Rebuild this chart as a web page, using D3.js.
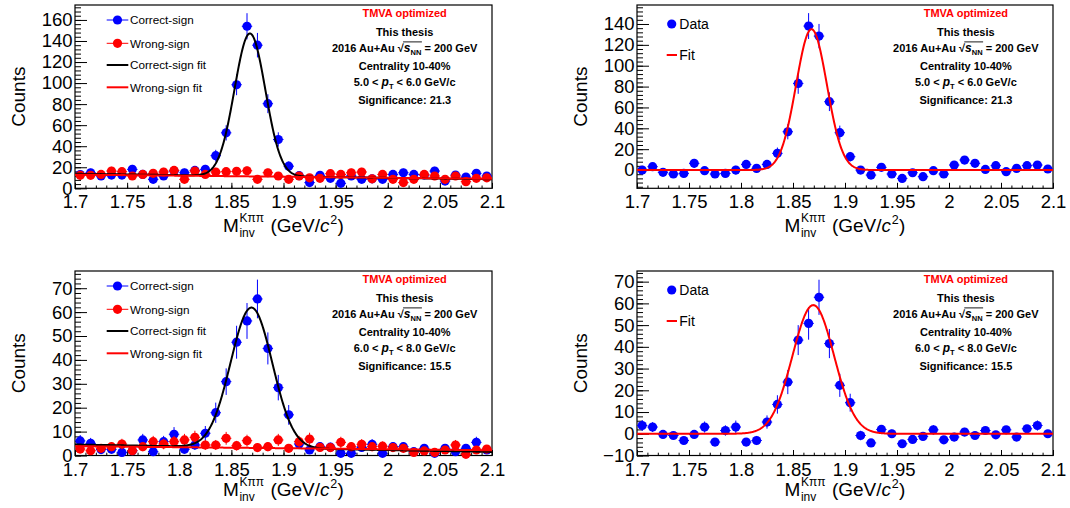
<!DOCTYPE html>
<html><head><meta charset="utf-8">
<script src="https://cdn.jsdelivr.net/npm/d3@7"></script>
<style>
body{margin:0;background:#fff;}
svg{display:block;font-family:"Liberation Sans",Arial,Helvetica,sans-serif;}
</style></head><body>
<svg id="c" width="1070" height="508"></svg>
<script>
// ---------------- data ----------------
const binCenters = [1.705,1.715,1.725,1.735,1.745,1.755,1.765,1.775,1.785,1.795,
  1.805,1.815,1.825,1.835,1.845,1.855,1.865,1.875,1.885,1.895,
  1.905,1.915,1.925,1.935,1.945,1.955,1.965,1.975,1.985,1.995,
  2.005,2.015,2.025,2.035,2.045,2.055,2.065,2.075,2.085,2.095];
const binHalfWidth = 0.005;

// 5.0 < pT < 6.0
const correctSign56 = [13,14.8,11.7,12.6,12.6,18,13.2,8.5,11.7,16.4,14.8,17,18,31,52.7,98.4,154,136,80.4,46.4,
  21,12,5.4,12.3,9.5,4.7,11.7,8.5,9,8.5,13.2,14.8,13.2,12.6,16.4,6.9,12.6,10.7,14.2,11.7];
const wrongSign56 = [12.3,12.3,13.2,16.4,15.8,11.7,13.2,14.2,15.5,17,8.5,16.4,13.2,15.5,15.8,16.1,16.7,8.5,14.8,11.7,
  8.5,11.7,10,9.5,13.9,13.2,14.8,15.5,9,13.2,8.5,5.4,8.5,13.2,11.7,8.5,11.7,6.3,9.5,10];
const signal56 = [0,3.2,-2.2,-3.8,-3.2,6.4,-0.6,-3.8,-3.2,0,5.4,1.6,5.4,16,36.7,83,138,128.4,65.5,35.8,
  12.8,0,-4.8,2.6,-3.8,-8,-2.6,-6.4,-0.6,-3.8,4.8,9.6,6.4,0.6,4.2,-1.6,1.6,4.2,4.8,1];

// 6.0 < pT < 8.0
const correctSign68 = [6.1,5.1,2.5,2.6,1.3,2,6.5,1.6,5.8,8.9,2.6,4.4,9.3,17.9,30.9,47.4,56.3,65.5,44.8,28.4,
  17,4.8,2.3,3.7,3.5,0.9,0.9,3.4,4.7,0.9,3.7,3.7,1.6,3,0.9,3,1.6,3,5.5,2.3];
const wrongSign68 = [2.7,2,3,3.7,4.8,2,3.7,5.8,4.8,5.8,6.5,7.6,4.4,4.4,7.2,4.1,6.2,3.3,3.7,6.5,
  3,5.8,6.9,3.4,3.3,5.5,3.7,4.7,3.7,3.9,3.3,3,1.3,1.9,1.3,2.3,4.4,0.5,2.3,2.7];
const signal68 = [3.8,3.1,-0.3,-0.8,-3.1,-0.3,3.1,-3.8,1.5,3.1,-3.8,-3.1,5.4,13.5,23.8,43.1,50.8,62.8,41.5,22.3,
  14.3,-0.8,-4.2,2,0,-4.6,-2.6,-1.2,1.8,-2.8,-1.5,0.8,-0.8,1.5,-0.5,1.8,-1.5,2.3,3.8,0];

// fit parameters: [amplitude, mean, sigma, bkg at 1.7, bkg at 2.1]
const fitCorrect56 = [135.5, 1.8678, 0.0148, 13.8, 8.6];
const fitWrong56   = [0, 1.8678, 0.0148, 13.0, 9.0];
const fitSignal56  = [135, 1.8678, 0.0148, 0, 0];
const fitCorrect68 = [58.6, 1.8693, 0.0200, 4.6, 1.5];
const fitWrong68   = [0, 1.8693, 0.0200, 3.9, 2.2];
const fitSignal68  = [59.2, 1.8695, 0.0200, 0, 0];

const xTickValues = [1.7,1.75,1.8,1.85,1.9,1.95,2.0,2.05,2.1];
const xTickLabels = ["1.7","1.75","1.8","1.85","1.9","1.95","2","2.05","2.1"];
const yTicksTL = [0,20,40,60,80,100,120,140,160];
const yLabelsTL = ["0","20","40","60","80","100","120","140","160"];
const yTicksTR = [0,20,40,60,80,100,120,140];
const yLabelsTR = ["0","20","40","60","80","100","120","140"];
const yTicksBL = [0,10,20,30,40,50,60,70];
const yLabelsBL = ["0","10","20","30","40","50","60","70"];
const yTicksBR = [-10,0,10,20,30,40,50,60,70];
const yLabelsBR = ["\u221210","0","10","20","30","40","50","60","70"];

const legendLeft = ["Correct-sign","Wrong-sign","Correct-sign fit","Wrong-sign fit"];
const legendRight = ["Data","Fit"];
const ptLow = ["5.0","6.0"], ptHigh = ["6.0","8.0"], significance = ["21.3","15.5"];

// ---------------- drawing ----------------
const svg = d3.select("#c");
const BLUE = "#0000ff", RED = "#ff0000";
const FONT = '"Liberation Sans",Arial,Helvetica,sans-serif';

function makeScales(cfg){
  const x = d3.scaleLinear().domain([1.7,2.1]).range([cfg.x0,cfg.x1]);
  const y = d3.scaleLinear().domain(cfg.ydom).range([cfg.y1,cfg.y0]);
  return {x,y};
}

function styleAxis(sel, size){
  sel.select(".domain").remove();
  sel.attr("font-family", FONT).attr("font-size", size);
  sel.selectAll("text").attr("fill","#000");
  sel.selectAll("line").attr("stroke","#000").attr("stroke-width",1);
}

function drawAxes(cfg, s){
  const g = svg.append("g");
  const yMinor = d3.range(cfg.minorStart, cfg.ydom[1], cfg.minorStep);
  g.append("g").attr("transform",`translate(${cfg.x0},0)`)
    .call(d3.axisLeft(s.y).tickValues(yMinor).tickSize(-6).tickFormat(""))
    .call(a=>styleAxis(a,18.5));
  g.append("g").attr("transform",`translate(${cfg.x0},0)`)
    .call(d3.axisLeft(s.y).tickValues(cfg.yTicks).tickSize(-12).tickPadding(2.5)
      .tickFormat((d,i)=>cfg.yLabels[i]))
    .call(a=>styleAxis(a,18.5));
  const xMinor = d3.range(0,41).map(i=>1.7+i*0.01);
  g.append("g").attr("transform",`translate(0,${cfg.y1})`)
    .call(d3.axisBottom(s.x).tickValues(xMinor).tickSize(-2.8).tickFormat(""))
    .call(a=>styleAxis(a,18.5));
  g.append("g").attr("transform",`translate(0,${cfg.y1})`)
    .call(d3.axisBottom(s.x).tickValues(xTickValues).tickSize(-5.5).tickPadding(6.9)
      .tickFormat((d,i)=>xTickLabels[i]))
    .call(a=>styleAxis(a,18.5));
  // frame
  svg.append("rect").attr("x",cfg.x0).attr("y",cfg.y0)
    .attr("width",cfg.x1-cfg.x0).attr("height",cfg.y1-cfg.y0)
    .attr("fill","none").attr("stroke","#000").attr("stroke-width",1.2);
  // y title
  svg.append("text").attr("transform",`translate(${cfg.x0-50},${(cfg.y0+cfg.y1)/2}) rotate(-90)`)
    .attr("text-anchor","middle").attr("font-size",19).attr("font-family",FONT).text("Counts");
  // x title
  const t = svg.append("g").attr("font-family",FONT);
  const base = cfg.titleBase;
  const m = t.append("text").attr("x",0).attr("y",base).attr("font-size",19).text("M");
  const wm = m.node().getComputedTextLength();
  const sx = wm + 0.5;
  const sup = t.append("text").attr("x",sx).attr("y",base-9.8).attr("font-size",12).text("K\u03c0\u03c0");
  const sub = t.append("text").attr("x",sx).attr("y",base+5).attr("font-size",12).text("inv");
  const rx = sx + Math.max(sup.node().getComputedTextLength(), sub.node().getComputedTextLength()) + 6.5;
  const r1 = t.append("text").attr("x",rx).attr("y",base).attr("font-size",19).text("(GeV/");
  const w1 = r1.node().getComputedTextLength();
  const c = t.append("text").attr("x",rx+w1).attr("y",base).attr("font-size",19).attr("font-style","italic").text("c");
  const wc = c.node().getComputedTextLength();
  const two = t.append("text").attr("x",rx+w1+wc+0.8).attr("y",base-8).attr("font-size",12.5).text("2");
  const w2 = two.node().getComputedTextLength();
  const r2 = t.append("text").attr("x",rx+w1+wc+0.8+w2+0.3).attr("y",base).attr("font-size",19).text(")");
  const total = rx+w1+wc+0.8+w2+0.3 + r2.node().getComputedTextLength();
  t.attr("transform",`translate(${(cfg.x0+cfg.x1)/2 - total/2},0)`);
}

function drawPoints(s, vals, errs, color){
  const g = svg.append("g");
  binCenters.forEach((xc,i)=>{
    const v = vals[i], e = errs[i];
    g.append("line").attr("x1",s.x(xc-binHalfWidth)).attr("x2",s.x(xc+binHalfWidth))
      .attr("y1",s.y(v)).attr("y2",s.y(v)).attr("stroke",color).attr("stroke-width",1);
    g.append("line").attr("x1",s.x(xc)).attr("x2",s.x(xc))
      .attr("y1",s.y(v-e)).attr("y2",s.y(v+e)).attr("stroke",color).attr("stroke-width",1);
  });
  g.selectAll("circle").data(vals).join("circle")
    .attr("cx",(d,i)=>s.x(binCenters[i])).attr("cy",d=>s.y(d)).attr("r",4.6).attr("fill",color);
}

function drawFit(s, p, color){
  const [A,mu,sig,b0,b1] = p;
  const xs = d3.range(0,801).map(i=>1.7+i*0.0005);
  const f = xv => A*Math.exp(-0.5*((xv-mu)/sig)**2) + b0 + (b1-b0)*(xv-1.7)/0.4;
  svg.append("path").datum(xs)
    .attr("d", d3.line().x(d=>s.x(d)).y(d=>s.y(f(d))))
    .attr("fill","none").attr("stroke",color).attr("stroke-width",2);
}

function drawAnnotation(cfg, pt, sig){
  const cx = cfg.x0 + 0.7905*(cfg.x1-cfg.x0);
  const g = svg.append("g").attr("font-family",FONT).attr("font-weight","bold").attr("font-size",11)
    .attr("text-anchor","middle");
  const y0 = cfg.y0;
  g.append("text").attr("x",cx).attr("y",y0+12.3).attr("fill",RED).text("TMVA optimized");
  g.append("text").attr("x",cx).attr("y",y0+31.3).text("This thesis");
  const t = g.append("text").attr("x",cx).attr("y",y0+47.3);
  t.append("tspan").text("2016 Au+Au \u221a");
  t.append("tspan").attr("font-style","italic").attr("font-size",12).text("s");
  t.append("tspan").attr("font-size",7.5).attr("dy",2.5).text("NN");
  t.append("tspan").attr("dy",-2.5).text(" = 200 GeV");
  // overline of the square root
  const node = t.node();
  const iSq = 11; // index of sqrt char
  const sqE = node.getEndPositionOfChar(iSq);
  const nnE = node.getEndPositionOfChar(iSq+3);
  g.append("line").attr("x1",sqE.x-0.8).attr("x2",nnE.x+0.5)
    .attr("y1",y0+36.9).attr("y2",y0+36.9).attr("stroke","#000").attr("stroke-width",0.9);
  g.append("text").attr("x",cx).attr("y",y0+65).text("Centrality 10-40%");
  const p = g.append("text").attr("x",cx).attr("y",y0+81.3);
  p.append("tspan").text(pt[0]+" < ");
  p.append("tspan").attr("font-style","italic").attr("font-size",12).text("p");
  p.append("tspan").attr("font-size",7.5).attr("dy",3).text("T");
  p.append("tspan").attr("dy",-3).text(" < "+pt[1]+" GeV/c");
  g.append("text").attr("x",cx).attr("y",y0+99).text("Significance: "+sig);
}

function drawLegendLeft(cfg){
  const g = svg.append("g").attr("font-family",FONT).attr("font-size",11.7);
  const rows = [15,38.3,60,82.3];
  const colors = [BLUE,RED,"#000",RED];
  rows.forEach((dy,i)=>{
    const y = cfg.y0+dy;
    g.append("line").attr("x1",cfg.x0+31.7).attr("x2",cfg.x0+53.3).attr("y1",y).attr("y2",y)
      .attr("stroke",colors[i]).attr("stroke-width", i<2 ? 1 : 2);
    if(i<2) g.append("circle").attr("cx",cfg.x0+42.5).attr("cy",y).attr("r",4.6).attr("fill",colors[i]);
    g.append("text").attr("x",cfg.x0+55).attr("y",y+4.2).text(legendLeft[i]);
  });
}

function drawLegendRight(cfg){
  const g = svg.append("g").attr("font-family",FONT).attr("font-size",14);
  g.append("circle").attr("cx",cfg.x0+34.7).attr("cy",cfg.y0+19).attr("r",4.6).attr("fill",BLUE);
  g.append("text").attr("x",cfg.x0+42.3).attr("y",cfg.y0+24).text(legendRight[0]);
  g.append("line").attr("x1",cfg.x0+29.7).attr("x2",cfg.x0+40).attr("y1",cfg.y0+50).attr("y2",cfg.y0+50)
    .attr("stroke",RED).attr("stroke-width",2);
  g.append("text").attr("x",cfg.x0+42.3).attr("y",cfg.y0+55).text(legendRight[1]);
}

const sq = a => a.map(v=>Math.sqrt(Math.max(v,0)));

const panels = [
  {x0:75,x1:492,y0:5,y1:188.3,ydom:[0,174.2],yTicks:yTicksTL,yLabels:yLabelsTL,minorStart:0,minorStep:4,titleBase:231.5},
  {x0:637,x1:1053,y0:5,y1:188.3,ydom:[-17.5,158.2],yTicks:yTicksTR,yLabels:yLabelsTR,minorStart:-16,minorStep:4,titleBase:231.5},
  {x0:75,x1:492,y0:271,y1:455.5,ydom:[0,77.2],yTicks:yTicksBL,yLabels:yLabelsBL,minorStart:0,minorStep:2,titleBase:496},
  {x0:637,x1:1053,y0:271,y1:455.5,ydom:[-10,74.9],yTicks:yTicksBR,yLabels:yLabelsBR,minorStart:-10,minorStep:2,titleBase:496}
];

// Panel 1
{ const c = panels[0], s = makeScales(c); drawAxes(c,s);
  drawPoints(s, correctSign56, sq(correctSign56), BLUE);
  drawPoints(s, wrongSign56, sq(wrongSign56), RED);
  drawFit(s, fitCorrect56, "#000"); drawFit(s, fitWrong56, RED);
  drawLegendLeft(c); drawAnnotation(c, ptLow, significance[0]); }
// Panel 2
{ const c = panels[1], s = makeScales(c); drawAxes(c,s);
  drawPoints(s, signal56, sq(correctSign56), BLUE);
  drawFit(s, fitSignal56, RED);
  drawLegendRight(c); drawAnnotation(c, ptLow, significance[0]); }
// Panel 3
{ const c = panels[2], s = makeScales(c); drawAxes(c,s);
  drawPoints(s, correctSign68, sq(correctSign68), BLUE);
  drawPoints(s, wrongSign68, sq(wrongSign68), RED);
  drawFit(s, fitCorrect68, "#000"); drawFit(s, fitWrong68, RED);
  drawLegendLeft(c); drawAnnotation(c, ptHigh, significance[1]); }
// Panel 4
{ const c = panels[3], s = makeScales(c); drawAxes(c,s);
  drawPoints(s, signal68, sq(correctSign68), BLUE);
  drawFit(s, fitSignal68, RED);
  drawLegendRight(c); drawAnnotation(c, ptHigh, significance[1]); }
</script>
</body></html>
